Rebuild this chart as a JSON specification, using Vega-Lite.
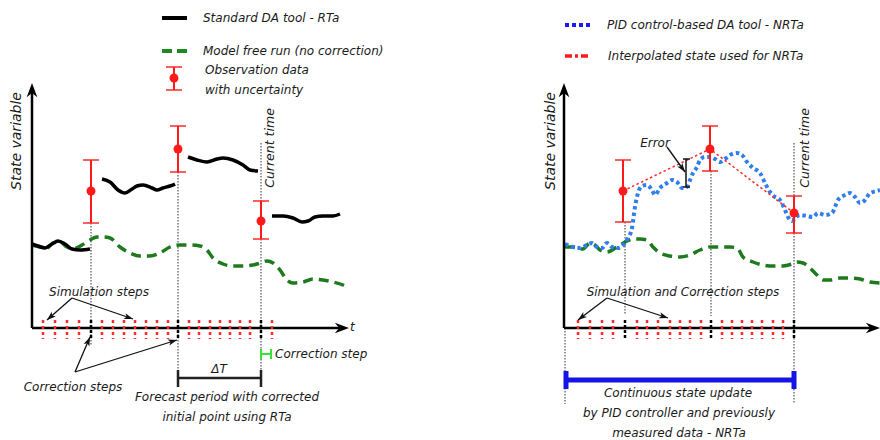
{
"$schema": "https://vega.github.io/schema/vega-lite/v6.json",
"width": 880, "height": 440, "padding": 0, "autosize": {"type": "none"},
"background": "white",
"config": {"view": {"stroke": null}, "text": {"font": "DejaVu Sans", "fontStyle": "italic", "fontSize": 12, "color": "#1a1a1a"}},
"datasets": {
"axes": [{"x":32,"y":328,"x2":32,"y2":90},{"x":32,"y":328,"x2":342,"y2":328},{"x":564,"y":328,"x2":564,"y2":90},{"x":564,"y":328,"x2":873,"y2":328}],
"tips": [{"x":32,"y":83,"a":0},{"x":349,"y":328,"a":90},{"x":564,"y":83,"a":0},{"x":880,"y":328,"a":90}],
"redticks": [{"x":43,"y":320,"y2":339},{"x":55,"y":320,"y2":339},{"x":67,"y":320,"y2":339},{"x":79,"y":320,"y2":339},{"x":102,"y":320,"y2":339},{"x":113,"y":320,"y2":339},{"x":124,"y":320,"y2":339},{"x":135,"y":320,"y2":339},{"x":146,"y":320,"y2":339},{"x":157,"y":320,"y2":339},{"x":168,"y":320,"y2":339},{"x":189,"y":320,"y2":339},{"x":199,"y":320,"y2":339},{"x":210,"y":320,"y2":339},{"x":220,"y":320,"y2":339},{"x":230,"y":320,"y2":339},{"x":240,"y":320,"y2":339},{"x":250,"y":320,"y2":339},{"x":272,"y":320,"y2":339},
 {"x":578,"y":320,"y2":339},{"x":590,"y":320,"y2":339},{"x":602,"y":320,"y2":339},{"x":613,"y":320,"y2":339},{"x":637,"y":320,"y2":339},{"x":647,"y":320,"y2":339},{"x":658,"y":320,"y2":339},{"x":670,"y":320,"y2":339},{"x":680,"y":320,"y2":339},{"x":690,"y":320,"y2":339},{"x":701,"y":320,"y2":339},{"x":722,"y":320,"y2":339},{"x":732,"y":320,"y2":339},{"x":742,"y":320,"y2":339},{"x":752,"y":320,"y2":339},{"x":762,"y":320,"y2":339},{"x":773,"y":320,"y2":339},{"x":783,"y":320,"y2":339}],
"blackticks": [{"x":91,"y":320,"y2":339},{"x":178,"y":320,"y2":339},{"x":261,"y":320,"y2":339},{"x":625,"y":320,"y2":339},{"x":711,"y":320,"y2":339},{"x":794,"y":320,"y2":339}],
"guides": [{"x":91,"y":223,"y2":345},{"x":178,"y":172,"y2":372},{"x":261,"y":143,"y2":372},{"x":625,"y":222,"y2":314},{"x":711,"y":171,"y2":316},{"x":794,"y":143,"y2":404},{"x":565,"y":328,"y2":404}],
"obs": [{"x":91,"y":191,"lo":223,"hi":160},{"x":178,"y":149,"lo":172,"hi":126},{"x":261,"y":221,"lo":239,"hi":201},{"x":623,"y":191,"lo":222,"hi":160},{"x":710,"y":149,"lo":171,"hi":126},{"x":794,"y":213,"lo":233,"hi":196},{"x":174,"y":78,"lo":90,"hi":67}],
"rta": [
 {"s":"a","x":32,"y":244},{"s":"a","x":38,"y":246},{"s":"a","x":45,"y":248},{"s":"a","x":52,"y":244},{"s":"a","x":58,"y":241},{"s":"a","x":65,"y":244},{"s":"a","x":72,"y":249},{"s":"a","x":80,"y":250},{"s":"a","x":90,"y":249},
 {"s":"b","x":102,"y":179},{"s":"b","x":110,"y":182},{"s":"b","x":118,"y":190},{"s":"b","x":125,"y":193},{"s":"b","x":132,"y":189},{"s":"b","x":137,"y":186},{"s":"b","x":143,"y":185},{"s":"b","x":152,"y":188},{"s":"b","x":157,"y":190},{"s":"b","x":163,"y":188},{"s":"b","x":170,"y":186},{"s":"b","x":175,"y":184},
 {"s":"c","x":188,"y":157},{"s":"c","x":197,"y":160},{"s":"c","x":207,"y":162},{"s":"c","x":217,"y":159},{"s":"c","x":223,"y":158},{"s":"c","x":233,"y":160},{"s":"c","x":243,"y":165},{"s":"c","x":250,"y":170},{"s":"c","x":258,"y":171},
 {"s":"d","x":272,"y":216},{"s":"d","x":283,"y":216},{"s":"d","x":293,"y":218},{"s":"d","x":302,"y":222},{"s":"d","x":308,"y":221},{"s":"d","x":315,"y":217},{"s":"d","x":323,"y":216},{"s":"d","x":333,"y":216},{"s":"d","x":340,"y":214}],
"free": [
 {"s":"L","x":32,"y":245},{"s":"L","x":40,"y":247},{"s":"L","x":47,"y":248},{"s":"L","x":53,"y":243},{"s":"L","x":60,"y":242},{"s":"L","x":67,"y":247},{"s":"L","x":73,"y":249},{"s":"L","x":82,"y":245},{"s":"L","x":90,"y":240},{"s":"L","x":97,"y":237},{"s":"L","x":103,"y":237},{"s":"L","x":110,"y":238},{"s":"L","x":120,"y":247},{"s":"L","x":130,"y":253},{"s":"L","x":140,"y":256},{"s":"L","x":150,"y":256},{"s":"L","x":160,"y":253},{"s":"L","x":170,"y":247},{"s":"L","x":180,"y":245},{"s":"L","x":190,"y":245},{"s":"L","x":200,"y":246},{"s":"L","x":207,"y":250},{"s":"L","x":213,"y":258},{"s":"L","x":223,"y":264},{"s":"L","x":233,"y":266},{"s":"L","x":243,"y":266},{"s":"L","x":253,"y":265},{"s":"L","x":260,"y":263},{"s":"L","x":267,"y":261},{"s":"L","x":273,"y":263},{"s":"L","x":280,"y":270},{"s":"L","x":287,"y":280},{"s":"L","x":293,"y":283},{"s":"L","x":303,"y":282},{"s":"L","x":313,"y":279},{"s":"L","x":323,"y":280},{"s":"L","x":333,"y":282},{"s":"L","x":343,"y":285},{"s":"L","x":347,"y":287},
 {"s":"R","x":565,"y":247},{"s":"R","x":573,"y":247},{"s":"R","x":583,"y":249},{"s":"R","x":590,"y":243},{"s":"R","x":595,"y":245},{"s":"R","x":600,"y":250},{"s":"R","x":607,"y":252},{"s":"R","x":617,"y":247},{"s":"R","x":625,"y":242},{"s":"R","x":633,"y":239},{"s":"R","x":640,"y":239},{"s":"R","x":647,"y":240},{"s":"R","x":653,"y":247},{"s":"R","x":660,"y":253},{"s":"R","x":670,"y":256},{"s":"R","x":680,"y":257},{"s":"R","x":690,"y":255},{"s":"R","x":700,"y":250},{"s":"R","x":710,"y":247},{"s":"R","x":720,"y":247},{"s":"R","x":730,"y":247},{"s":"R","x":737,"y":248},{"s":"R","x":743,"y":257},{"s":"R","x":753,"y":262},{"s":"R","x":763,"y":265},{"s":"R","x":773,"y":266},{"s":"R","x":783,"y":266},{"s":"R","x":792,"y":264},{"s":"R","x":797,"y":262},{"s":"R","x":803,"y":263},{"s":"R","x":810,"y":268},{"s":"R","x":817,"y":275},{"s":"R","x":823,"y":280},{"s":"R","x":830,"y":280},{"s":"R","x":840,"y":278},{"s":"R","x":850,"y":278},{"s":"R","x":860,"y":279},{"s":"R","x":870,"y":282},{"s":"R","x":880,"y":283}],
"pid": [{"x":565,"y":244},{"x":573,"y":247},{"x":580,"y":248},{"x":587,"y":245},{"x":592,"y":243},{"x":597,"y":247},{"x":602,"y":248},{"x":607,"y":243},{"x":612,"y":247},{"x":618,"y":248},{"x":625,"y":243},{"x":628,"y":238},{"x":632,"y":228},{"x":635,"y":207},{"x":638,"y":193},{"x":642,"y":186},{"x":647,"y":185},{"x":652,"y":190},{"x":655,"y":195},{"x":660,"y":188},{"x":667,"y":183},{"x":672,"y":180},{"x":677,"y":182},{"x":682,"y":188},{"x":687,"y":187},{"x":690,"y":180},{"x":693,"y":173},{"x":697,"y":167},{"x":700,"y":160},{"x":705,"y":157},{"x":710,"y":157},{"x":715,"y":159},{"x":720,"y":162},{"x":725,"y":159},{"x":730,"y":155},{"x":737,"y":153},{"x":742,"y":155},{"x":747,"y":162},{"x":753,"y":168},{"x":760,"y":173},{"x":765,"y":183},{"x":770,"y":192},{"x":775,"y":197},{"x":780,"y":200},{"x":785,"y":210},{"x":788,"y":217},{"x":792,"y":221},{"x":795,"y":218},{"x":800,"y":215},{"x":807,"y":216},{"x":813,"y":217},{"x":818,"y":213},{"x":825,"y":215},{"x":832,"y":213},{"x":838,"y":200},{"x":845,"y":195},{"x":850,"y":193},{"x":855,"y":197},{"x":860,"y":203},{"x":865,"y":200},{"x":870,"y":193},{"x":877,"y":191},{"x":880,"y":190}],
"interp": [{"x":623,"y":191},{"x":710,"y":149},{"x":794,"y":213}],
"arrows": [{"x":72,"y":298,"x2":47,"y2":320,"a":229},{"x":72,"y":298,"x2":133,"y2":319,"a":109},{"x":75,"y":372,"x2":90,"y2":337,"a":23},{"x":75,"y":372,"x2":177,"y2":340,"a":73},{"x":607,"y":298,"x2":578,"y2":320,"a":233},{"x":607,"y":298,"x2":668,"y2":318,"a":108},{"x":667,"y":147,"x2":685,"y2":172,"a":144}],
"bars": [{"x":178,"y":378,"x2":261,"y2":378},{"x":178,"y":370,"x2":178,"y2":387},{"x":261,"y":370,"x2":261,"y2":387}],
"errbr": [{"x":686,"y":159,"x2":686,"y2":187},{"x":683,"y":159,"x2":690,"y2":159},{"x":683,"y":187,"x2":690,"y2":187}],
"greenbr": [{"x":261,"y":354,"x2":271,"y2":354},{"x":261,"y":349,"x2":261,"y2":359},{"x":271,"y":349,"x2":271,"y2":359}],
"bluebar": [{"x":566,"y":380,"x2":794,"y2":380},{"x":566,"y":371,"x2":566,"y2":389},{"x":794,"y":371,"x2":794,"y2":389}],
"lgBlack": [{"x":162,"y":18,"x2":187,"y2":18}],
"lgGreen": [{"x":162,"y":51,"x2":188,"y2":51}],
"lgBlue": [{"x":565,"y":25,"x2":591,"y2":25}],
"lgRed": [{"x":565,"y":56,"x2":591,"y2":56}],
"txtL": [{"t":"Standard DA tool - RTa","x":203,"y":18},{"t":"Model free run (no correction)","x":203,"y":51},{"t":"Observation data","x":205,"y":70},{"t":"with uncertainty","x":205,"y":90},{"t":"Correction step","x":275,"y":354},{"t":"PID control-based DA tool - NRTa","x":607,"y":25},{"t":"Interpolated state used for NRTa","x":608,"y":56},{"t":"t","x":350,"y":327}],
"txtC": [{"t":"Simulation steps","x":99,"y":292},{"t":"Correction steps","x":73,"y":387},{"t":"ΔT","x":219,"y":369},{"t":"Forecast period with corrected","x":227,"y":397},{"t":"initial point using RTa","x":227,"y":417},{"t":"Simulation and Correction steps","x":683,"y":292},{"t":"Error","x":655,"y":143},{"t":"Continuous state update","x":678,"y":393},{"t":"by PID controller and previously","x":679,"y":413},{"t":"measured data - NRTa","x":679,"y":433}],
"txtV": [{"t":"Current time","x":270,"y":148},{"t":"Current time","x":805,"y":148}],
"txtAx": [{"t":"State variable","x":17,"y":141},{"t":"State variable","x":551,"y":141}]
},
"encoding": {
 "x": {"field": "x", "type": "quantitative", "scale": {"domain": [0, 880], "nice": false, "zero": false}, "axis": null},
 "y": {"field": "y", "type": "quantitative", "scale": {"domain": [0, 440], "nice": false, "zero": false, "reverse": true}, "axis": null}
},
"layer": [
 {"data": {"name": "guides"}, "mark": {"type": "rule", "color": "#333", "strokeWidth": 1, "strokeDash": [1.5, 1.5]}, "encoding": {"y2": {"field": "y2"}}},
 {"data": {"name": "free"}, "mark": {"type": "line", "color": "#1e7a1e", "strokeWidth": 3.5, "strokeDash": [10, 6], "interpolate": "monotone"}, "encoding": {"detail": {"field": "s"}}},
 {"data": {"name": "rta"}, "mark": {"type": "line", "color": "#000", "strokeWidth": 3.5, "interpolate": "monotone"}, "encoding": {"detail": {"field": "s"}}},
 {"data": {"name": "pid"}, "mark": {"type": "line", "color": "#2f7ef0", "strokeWidth": 4, "strokeDash": [3.5, 3], "interpolate": "monotone"}},
 {"data": {"name": "interp"}, "mark": {"type": "line", "color": "#ff2a2a", "strokeWidth": 1.5, "strokeDash": [2.5, 2.5]}},
 {"data": {"name": "axes"}, "mark": {"type": "rule", "color": "#000", "strokeWidth": 2.5}, "encoding": {"x2": {"field": "x2"}, "y2": {"field": "y2"}}},
 {"data": {"name": "tips"}, "mark": {"type": "point", "shape": "M0,0L-0.75,2L0,1.4L0.75,2Z", "filled": true, "color": "#000", "size": 200, "opacity": 1}, "encoding": {"angle": {"field": "a", "type": "quantitative", "scale": null}}},
 {"data": {"name": "redticks"}, "mark": {"type": "rule", "color": "#ff2a2a", "strokeWidth": 2.5, "strokeDash": [3, 3]}, "encoding": {"y2": {"field": "y2"}}},
 {"data": {"name": "blackticks"}, "mark": {"type": "rule", "color": "#000", "strokeWidth": 2.5, "strokeDash": [3, 2]}, "encoding": {"y2": {"field": "y2"}}},
 {"data": {"name": "obs"}, "mark": {"type": "rule", "color": "#ff1a1a", "strokeWidth": 2}, "encoding": {"y": {"field": "hi", "type": "quantitative"}, "y2": {"field": "lo"}}},
 {"data": {"name": "obs"}, "mark": {"type": "tick", "orient": "horizontal", "color": "#ff1a1a", "thickness": 2, "size": 16}, "encoding": {"y": {"field": "hi", "type": "quantitative"}}},
 {"data": {"name": "obs"}, "mark": {"type": "tick", "orient": "horizontal", "color": "#ff1a1a", "thickness": 2, "size": 16}, "encoding": {"y": {"field": "lo", "type": "quantitative"}}},
 {"data": {"name": "obs"}, "mark": {"type": "point", "shape": "circle", "filled": true, "color": "#ff1a1a", "size": 80, "opacity": 1}},
 {"data": {"name": "arrows"}, "mark": {"type": "rule", "color": "#111", "strokeWidth": 1.3}, "encoding": {"x2": {"field": "x2"}, "y2": {"field": "y2"}}},
 {"data": {"name": "arrows"}, "mark": {"type": "point", "shape": "M0,0L-0.7,2L0,1.5L0.7,2Z", "filled": true, "color": "#111", "size": 80, "opacity": 1}, "encoding": {"x": {"field": "x2", "type": "quantitative"}, "y": {"field": "y2", "type": "quantitative"}, "angle": {"field": "a", "type": "quantitative", "scale": null}}},
 {"data": {"name": "bars"}, "mark": {"type": "rule", "color": "#222", "strokeWidth": 2.5}, "encoding": {"x2": {"field": "x2"}, "y2": {"field": "y2"}}},
 {"data": {"name": "errbr"}, "mark": {"type": "rule", "color": "#111", "strokeWidth": 1.5}, "encoding": {"x2": {"field": "x2"}, "y2": {"field": "y2"}}},
 {"data": {"name": "greenbr"}, "mark": {"type": "rule", "color": "#3ae03a", "strokeWidth": 2}, "encoding": {"x2": {"field": "x2"}, "y2": {"field": "y2"}}},
 {"data": {"name": "bluebar"}, "mark": {"type": "rule", "color": "#1414e6", "strokeWidth": 5}, "encoding": {"x2": {"field": "x2"}, "y2": {"field": "y2"}}},
 {"data": {"name": "lgBlack"}, "mark": {"type": "rule", "color": "#000", "strokeWidth": 4}, "encoding": {"x2": {"field": "x2"}, "y2": {"field": "y2"}}},
 {"data": {"name": "lgGreen"}, "mark": {"type": "rule", "color": "#1e8a1e", "strokeWidth": 4, "strokeDash": [10, 5]}, "encoding": {"x2": {"field": "x2"}, "y2": {"field": "y2"}}},
 {"data": {"name": "lgBlue"}, "mark": {"type": "rule", "color": "#1a1aff", "strokeWidth": 4, "strokeDash": [4, 3]}, "encoding": {"x2": {"field": "x2"}, "y2": {"field": "y2"}}},
 {"data": {"name": "lgRed"}, "mark": {"type": "rule", "color": "#ff1a1a", "strokeWidth": 3.5, "strokeDash": [7, 3, 3, 3]}, "encoding": {"x2": {"field": "x2"}, "y2": {"field": "y2"}}},
 {"data": {"name": "txtL"}, "mark": {"type": "text", "align": "left", "baseline": "middle"}, "encoding": {"text": {"field": "t"}}},
 {"data": {"name": "txtC"}, "mark": {"type": "text", "align": "center", "baseline": "middle"}, "encoding": {"text": {"field": "t"}}},
 {"data": {"name": "txtV"}, "mark": {"type": "text", "align": "center", "baseline": "middle", "angle": 270, "fontSize": 12.5}, "encoding": {"text": {"field": "t"}}},
 {"data": {"name": "txtAx"}, "mark": {"type": "text", "align": "center", "baseline": "middle", "angle": 270, "fontSize": 14}, "encoding": {"text": {"field": "t"}}}
]
}
